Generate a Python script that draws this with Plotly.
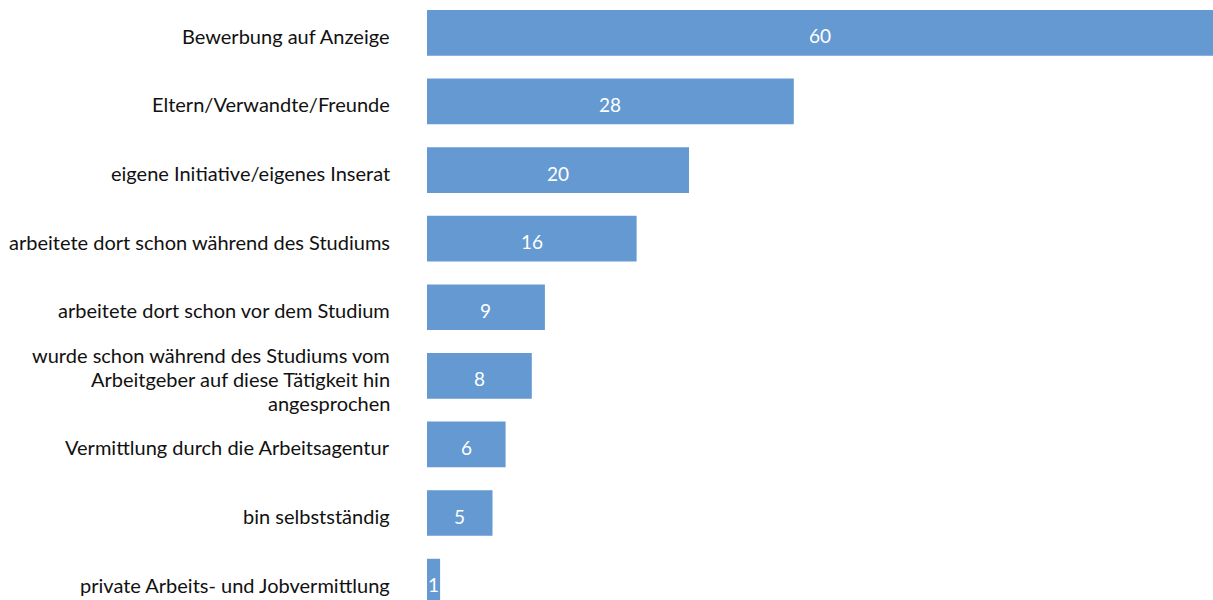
import plotly.graph_objects as go

categories = [
    "Bewerbung auf Anzeige",
    "Eltern/Verwandte/Freunde",
    "eigene Initiative/eigenes Inserat",
    "arbeitete dort schon während des Studiums",
    "arbeitete dort schon vor dem Studium",
    "wurde schon während des Studiums vom<br>Arbeitgeber auf diese Tätigkeit hin<br>angesprochen",
    "Vermittlung durch die Arbeitsagentur",
    "bin selbstständig",
    "private Arbeits- und Jobvermittlung",
]
values = [60, 28, 20, 16, 9, 8, 6, 5, 1]

positions = list(range(len(categories)))
font_family = "Lato, 'Open Sans', sans-serif"
label_color = "#111111"
line_height = 24

fig = go.Figure(
    go.Bar(
        x=values,
        y=positions,
        orientation="h",
        width=0.666,
        marker=dict(color="#6599D1", line=dict(width=0)),
        hoverinfo="skip",
    )
)

# category labels, right-aligned left of the bars (one annotation per text line)
for pos, cat in zip(positions, categories):
    lines = cat.split("<br>")
    n = len(lines)
    for i, line in enumerate(lines):
        fig.add_annotation(
            x=0, xref="paper", xanchor="right", xshift=-35,
            y=pos, yref="y", yanchor="middle",
            yshift=-3 - (i - (n - 1) / 2) * line_height,
            text=line, showarrow=False, align="right",
            font=dict(size=20, family=font_family, color=label_color),
        )

# value labels centred inside each bar
for pos, val in zip(positions, values):
    fig.add_annotation(
        x=val / 2, xref="x", xanchor="center",
        y=pos, yref="y", yanchor="middle", yshift=-3,
        text=str(val), showarrow=False,
        font=dict(size=19, family=font_family, color="white"),
    )

fig.update_layout(
    width=1213,
    height=600,
    margin=dict(l=427, r=0, t=0, b=0),
    plot_bgcolor="white",
    paper_bgcolor="white",
    showlegend=False,
    font=dict(family=font_family, size=20, color=label_color),
)
fig.update_xaxes(range=[0, 60], visible=False, fixedrange=True)
fig.update_yaxes(
    range=[8.268, -0.479],
    showticklabels=False,
    showgrid=False,
    zeroline=False,
    showline=False,
    ticks="",
    fixedrange=True,
)

fig.write_html("out.html")
